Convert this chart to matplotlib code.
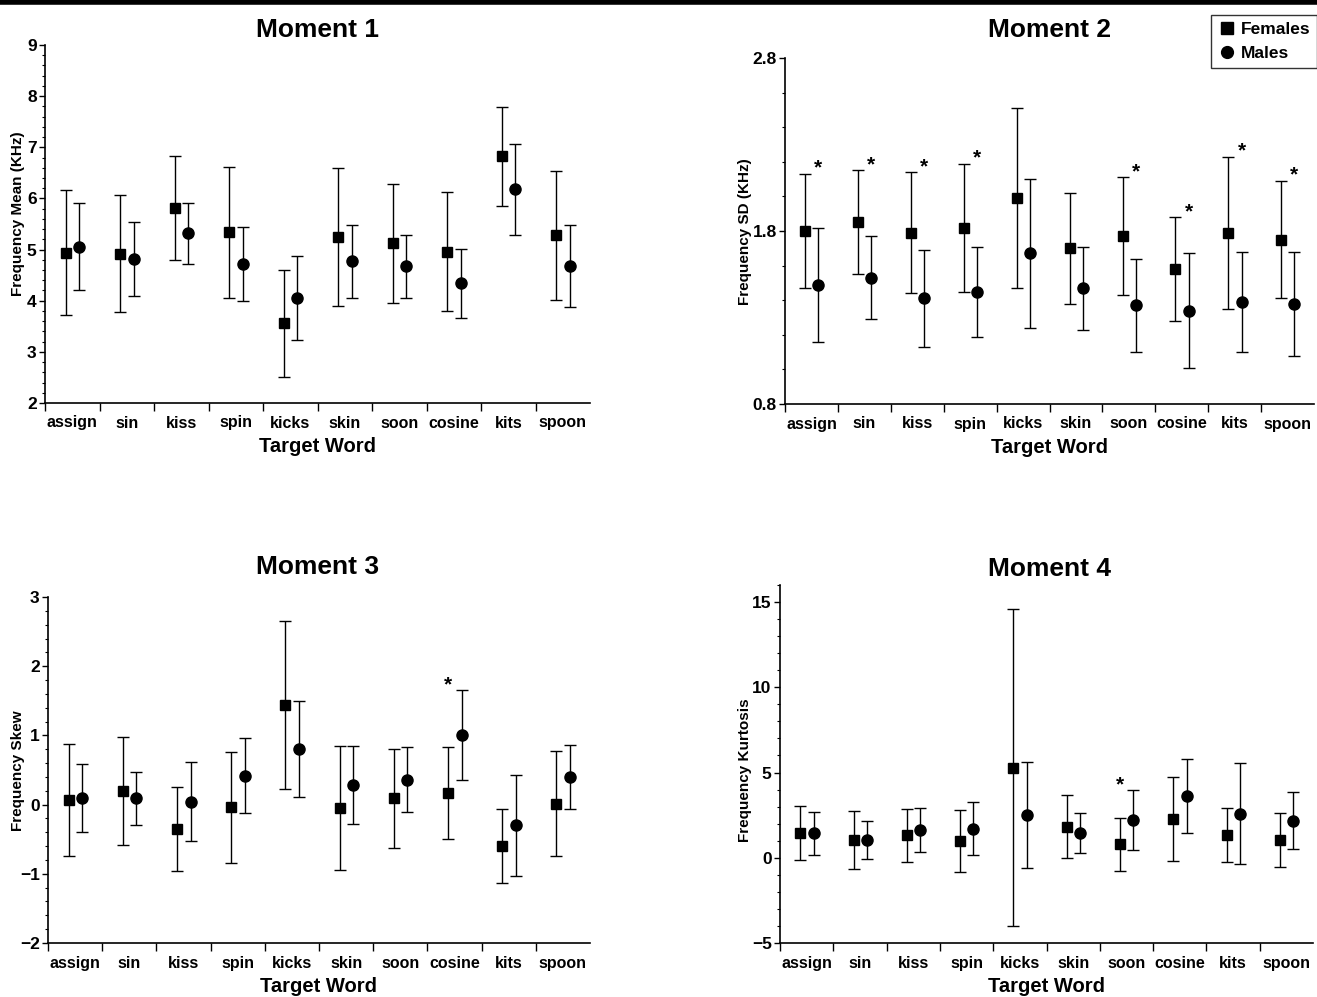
import numpy as np
import matplotlib
matplotlib.use("Agg")
import matplotlib.pyplot as plt
from matplotlib.lines import Line2D
from matplotlib.ticker import MultipleLocator, FixedLocator

plt.rcParams["font.family"] = ["Liberation Sans", "DejaVu Sans"]
plt.rcParams["font.weight"] = "bold"

# DATA
words = ["assign", "sin", "kiss", "spin", "kicks", "skin", "soon", "cosine", "kits", "spoon"]

# Moment 1 - mean (KHz)
m1_fem = [4.94, 4.92, 5.81, 5.34, 3.56, 5.25, 5.12, 4.96, 6.82, 5.28]
m1_fem_err = [1.22, 1.14, 1.02, 1.28, 1.05, 1.35, 1.17, 1.16, 0.97, 1.26]
m1_mal = [5.06, 4.82, 5.32, 4.72, 4.05, 4.77, 4.67, 4.34, 6.18, 4.68]
m1_mal_err = [0.86, 0.72, 0.60, 0.72, 0.82, 0.72, 0.61, 0.68, 0.89, 0.81]
m1_star = []

# Moment 2 - SD (KHz)
m2_fem = [1.80, 1.85, 1.79, 1.82, 1.99, 1.70, 1.77, 1.58, 1.79, 1.75]
m2_fem_err = [0.33, 0.30, 0.35, 0.37, 0.52, 0.32, 0.34, 0.30, 0.44, 0.34]
m2_mal = [1.49, 1.53, 1.41, 1.45, 1.67, 1.47, 1.37, 1.34, 1.39, 1.38]
m2_mal_err = [0.33, 0.24, 0.28, 0.26, 0.43, 0.24, 0.27, 0.33, 0.29, 0.30]
m2_star = ["assign", "sin", "kiss", "spin", "soon", "cosine", "kits", "spoon"]

# Moment 3 - skew
m3_fem = [0.06, 0.20, -0.35, -0.04, 1.44, -0.05, 0.09, 0.17, -0.60, 0.01]
m3_fem_err = [0.81, 0.78, 0.61, 0.80, 1.22, 0.90, 0.71, 0.66, 0.54, 0.76]
m3_mal = [0.10, 0.09, 0.04, 0.42, 0.80, 0.28, 0.36, 1.00, -0.30, 0.40]
m3_mal_err = [0.49, 0.38, 0.57, 0.54, 0.69, 0.56, 0.47, 0.65, 0.73, 0.46]
m3_star = ["cosine"]

# Moment 4 - kurtosis
m4_fem = [1.47, 1.04, 1.31, 0.98, 5.29, 1.82, 0.78, 2.27, 1.33, 1.04]
m4_fem_err = [1.59, 1.72, 1.53, 1.80, 9.30, 1.86, 1.55, 2.45, 1.58, 1.58]
m4_mal = [1.45, 1.04, 1.63, 1.71, 2.51, 1.45, 2.20, 3.63, 2.59, 2.18]
m4_mal_err = [1.26, 1.14, 1.30, 1.54, 3.10, 1.16, 1.75, 2.16, 2.96, 1.69]
m4_star = ["soon"]

W, H = 1317, 997
fig = plt.figure(figsize=(W / 100, H / 100), dpi=100)


def px(l, r, t, b):
    return [l / W, 1 - b / H, (r - l) / W, (b - t) / H]


def panel(rect, title, title_xy, ylabel, ylabel_xy, fem, fem_err, mal, mal_err,
          stars, ylim, yticks, minor, yfmt):
    ax = fig.add_axes(px(*rect))
    n = len(words)
    xf = np.arange(n) + 0.38
    xm = np.arange(n) + 0.63
    ax.errorbar(xf, fem, yerr=fem_err, fmt="s", color="black", ms=7.5,
                elinewidth=1, capsize=4, capthick=1)
    ax.errorbar(xm, mal, yerr=mal_err, fmt="o", color="black", ms=8,
                elinewidth=1, capsize=4, capthick=1)
    for w in stars:
        i = words.index(w)
        top_f = fem[i] + fem_err[i]
        top_m = mal[i] + mal_err[i]
        sx = xm[i] if top_m < top_f else xf[i]
        ax.annotate("*", (sx, max(top_f, top_m)), xytext=(0, 4),
                    textcoords="offset points", ha="center", va="center",
                    fontsize=15, fontweight="bold")
    ax.set_xlim(0, n)
    ax.set_ylim(*ylim)
    ax.set_xticks(np.arange(n))
    ax.set_xticklabels([])
    ax.set_xticks(np.arange(n) + 0.5, minor=True)
    ax.set_xticklabels(words, minor=True, fontsize=11.5, fontweight="bold")
    ax.tick_params(axis="x", which="major", length=6, width=1, direction="out")
    ax.tick_params(axis="x", which="minor", length=0, pad=9)
    ax.yaxis.set_major_locator(FixedLocator(yticks))
    ax.yaxis.set_minor_locator(MultipleLocator(minor))
    ax.yaxis.set_major_formatter(yfmt)
    ax.tick_params(axis="y", which="major", length=4, width=1, labelsize=12.5, pad=2)
    ax.tick_params(axis="y", which="minor", length=2, width=0.8)
    for s in ["top", "right"]:
        ax.spines[s].set_visible(False)
    for s in ["left", "bottom"]:
        ax.spines[s].set_linewidth(1.2)
    ax.set_xlabel("Target Word", fontsize=14.5, fontweight="bold", labelpad=5)
    fig.text(title_xy[0] / W, 1 - title_xy[1] / H, title, fontsize=19,
             fontweight="bold", ha="center", va="center")
    fig.text(ylabel_xy[0] / W, 1 - ylabel_xy[1] / H, ylabel, fontsize=11,
             fontweight="bold", ha="center", va="center", rotation=90)
    return ax


panel((45, 590, 45, 403), "Moment 1", (318, 30), "Frequency Mean (KHz)", (18, 214),
      m1_fem, m1_fem_err, m1_mal, m1_mal_err, m1_star, (2, 9),
      [2, 3, 4, 5, 6, 7, 8, 9], 0.2, "{x:.0f}")
panel((785, 1314, 58, 404), "Moment 2", (1050, 30), "Frequency SD (KHz)", (745, 232),
      m2_fem, m2_fem_err, m2_mal, m2_mal_err, m2_star, (0.8, 2.8),
      [0.8, 1.8, 2.8], 0.2, "{x:.1f}")
panel((48, 590, 597, 943), "Moment 3", (318, 567), "Frequency Skew", (18, 771),
      m3_fem, m3_fem_err, m3_mal, m3_mal_err, m3_star, (-2, 3),
      [-2, -1, 0, 1, 2, 3], 0.2, "{x:.0f}")
panel((780, 1313, 585, 943), "Moment 4", (1050, 569), "Frequency Kurtosis", (745, 770),
      m4_fem, m4_fem_err, m4_mal, m4_mal_err, m4_star, (-5, 16),
      [-5, 0, 5, 10, 15], 1, "{x:.0f}")

# legend (box runs to the right page edge like the scan)
handles = [Line2D([], [], ls="none", marker="s", color="black", ms=8, label="Females"),
           Line2D([], [], ls="none", marker="o", color="black", ms=8.5, label="Males")]
fig.legend(handles=handles, loc="upper left", bbox_to_anchor=(1211 / W, 1 - 15 / H),
           frameon=True, fancybox=False, edgecolor="black",
           prop={"weight": "bold", "size": 12.5}, handletextpad=0.3, borderpad=0.4,
           labelspacing=0.5, handlelength=1.0, borderaxespad=0)

# thick rule at the top of the page
fig.add_artist(Line2D([0, 1], [1 - 2.5 / H, 1 - 2.5 / H], color="black", lw=4,
                      transform=fig.transFigure))

fig.savefig("out.png", dpi=100)
